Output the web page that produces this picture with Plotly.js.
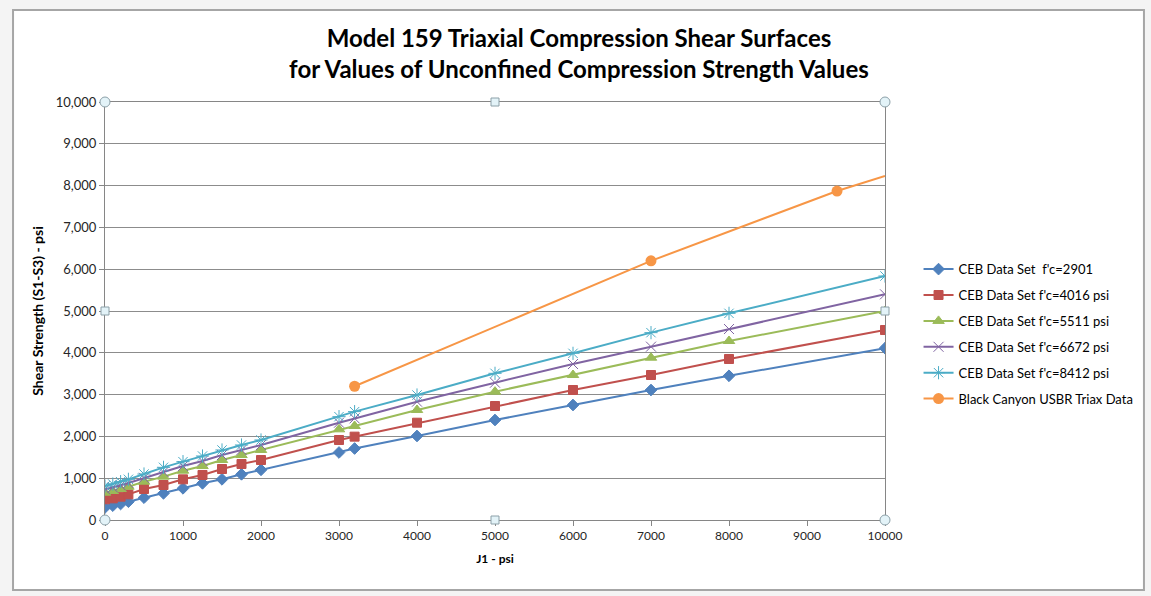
<!DOCTYPE html>
<html>
<head>
<meta charset="utf-8">
<script src="https://cdn.plot.ly/plotly-3.0.1.min.js"></script>
<style>
  html, body { margin: 0; padding: 0; background: #f4f4f4; }
  #chart { width: 1151px; height: 596px; }
</style>
</head>
<body>
<div id="chart"></div>
<script>
// Confining stress J1 (psi) shared by the CEB data sets
const j1 = [0, 100, 200, 300, 500, 750, 1000, 1250, 1500, 1750, 2000, 3000, 3200, 4000, 5000, 6000, 7000, 8000, 10000];

// Shear strength (S1-S3) in psi for each unconfined strength
const ceb2901 = [300, 343, 383, 438, 534, 638, 758, 877, 973, 1093, 1200, 1615, 1710, 2010, 2392, 2751, 3110, 3450, 4110];
const ceb4016 = [495, 518, 558, 614, 742, 837, 973, 1077, 1220, 1340, 1435, 1914, 1994, 2328, 2727, 3110, 3469, 3852, 4545];
const ceb5511 = [654, 694, 742, 797, 917, 1037, 1180, 1292, 1435, 1555, 1675, 2169, 2249, 2632, 3070, 3469, 3883, 4282, 5000];
const ceb6672 = [735, 778, 830, 885, 1010, 1150, 1290, 1410, 1555, 1675, 1795, 2328, 2432, 2831, 3285, 3732, 4147, 4569, 5399];
const ceb8412 = [813, 861, 917, 973, 1100, 1260, 1396, 1531, 1675, 1794, 1914, 2472, 2592, 2990, 3509, 3987, 4482, 4944, 5837];

// Black Canyon USBR triaxial results; the last point only continues the line
const canyonJ1 = [3200, 7000, 9385, 10000];
const canyonShear = [3200, 6200, 7870, 8230];

const seriesNames = [
  "CEB Data Set \u00a0f'c=2901",
  "CEB Data Set f'c=4016 psi",
  "CEB Data Set f'c=5511 psi",
  "CEB Data Set f'c=6672 psi",
  "CEB Data Set f'c=8412 psi",
  "Black Canyon USBR Triax Data"
];

const xTicks = [0, 1000, 2000, 3000, 4000, 5000, 6000, 7000, 8000, 9000, 10000];
const yTicks = [0, 1000, 2000, 3000, 4000, 5000, 6000, 7000, 8000, 9000, 10000];

const FONT = 'Lato, "Liberation Sans", sans-serif';

function cebTrace(idx, y, color, symbol, size) {
  return {
    type: 'scatter', mode: 'lines+markers', name: seriesNames[idx],
    legendgroup: 'g' + idx,
    x: j1, y: y,
    line: { color: color, width: 2 },
    marker: { color: color, symbol: symbol, size: size, line: { color: color, width: 1 } }
  };
}

const traces = [
  cebTrace(0, ceb2901, '#4F81BD', 'diamond', 9),
  cebTrace(1, ceb4016, '#C0504D', 'square', 9),
  cebTrace(2, ceb5511, '#9BBB59', 'triangle-up', 10),
  cebTrace(3, ceb6672, '#8064A2', 'x-thin-open', 10),
  cebTrace(4, ceb8412, '#4BACC6', 'asterisk-open', 11),
  {
    type: 'scatter', mode: 'lines+markers', name: seriesNames[5], legendgroup: 'g5',
    x: canyonJ1.slice(0, 3), y: canyonShear.slice(0, 3),
    line: { color: '#F79646', width: 2 },
    marker: { color: '#F79646', symbol: 'circle', size: 11 }
  },
  {
    type: 'scatter', mode: 'lines', showlegend: false, hoverinfo: 'skip', legendgroup: 'g5',
    x: canyonJ1.slice(2), y: canyonShear.slice(2),
    line: { color: '#F79646', width: 2 }
  }
];

// Chart frame and selection handles around the plot area
const shapes = [
  { type: 'rect', xref: 'paper', yref: 'paper', layer: 'below',
    x0: -0.1179, x1: 1.332, y0: -0.1675, y1: 1.220,
    fillcolor: '#ffffff', line: { color: '#a6a6a6', width: 2 } }
];
function handle(px, py, kind) {
  const r = kind === 'circle' ? 5 : 4;
  return { type: kind === 'circle' ? 'circle' : 'rect', xref: 'paper', yref: 'paper', layer: 'above',
    xsizemode: 'pixel', ysizemode: 'pixel', xanchor: px, yanchor: py,
    x0: -r, x1: r, y0: -r, y1: r,
    fillcolor: '#e3f3f8', line: { color: '#8ca0a8', width: 1 } };
}
[[0, 0], [1, 0], [0, 1], [1, 1]].forEach(p => shapes.push(handle(p[0], p[1], 'circle')));
[[0.5, 0], [0.5, 1], [0, 0.5], [1, 0.5]].forEach(p => shapes.push(handle(p[0], p[1], 'square')));

const layout = {
  width: 1151, height: 596,
  margin: { l: 105, r: 266, t: 102, b: 76 },
  paper_bgcolor: '#f4f4f4',
  plot_bgcolor: '#ffffff',
  font: { family: FONT, color: '#262626', size: 12 },
  title: {
    text: '<b>Model 159 Triaxial Compression Shear Surfaces<br>for Values of Unconfined Compression Strength Values</b>',
    font: { family: FONT, size: 24, color: '#000000' },
    x: 0.503, xanchor: 'center', y: 0.921, yanchor: 'top'
  },
  xaxis: {
    range: [0, 10000], tickvals: xTicks, ticktext: xTicks.map(v => String(v)),
    showgrid: false, zeroline: false,
    showline: true, linecolor: '#868686', linewidth: 1, mirror: true,
    ticks: 'outside', ticklen: 5, tickcolor: '#868686',
    tickfont: { family: FONT, size: 12, color: '#262626' },
    title: { text: '<b>J1 - psi</b>', font: { family: FONT, size: 12, color: '#000' }, standoff: 12 }
  },
  yaxis: {
    range: [0, 10000], tickvals: yTicks, ticktext: yTicks.map(v => v.toLocaleString('en-US')),
    showgrid: true, gridcolor: '#8c8c8c', gridwidth: 1, zeroline: false,
    showline: true, linecolor: '#868686', linewidth: 1, mirror: true,
    ticks: 'outside', ticklen: 5, tickcolor: '#868686',
    tickfont: { family: FONT, size: 13, color: '#262626' },
    title: { text: '<b>Shear Strength (S1-S3) - psi</b>', font: { family: FONT, size: 14, color: '#000' }, standoff: 8 }
  },
  legend: {
    x: 1.043, xanchor: 'left', y: 0.636, yanchor: 'top',
    bgcolor: 'rgba(0,0,0,0)', borderwidth: 0,
    font: { family: FONT, size: 13, color: '#000' },
    tracegroupgap: 6, itemwidth: 30
  },
  shapes: shapes,
  showlegend: true
};

Plotly.newPlot('chart', traces, layout, { staticPlot: true, displayModeBar: false });
</script>
</body>
</html>
